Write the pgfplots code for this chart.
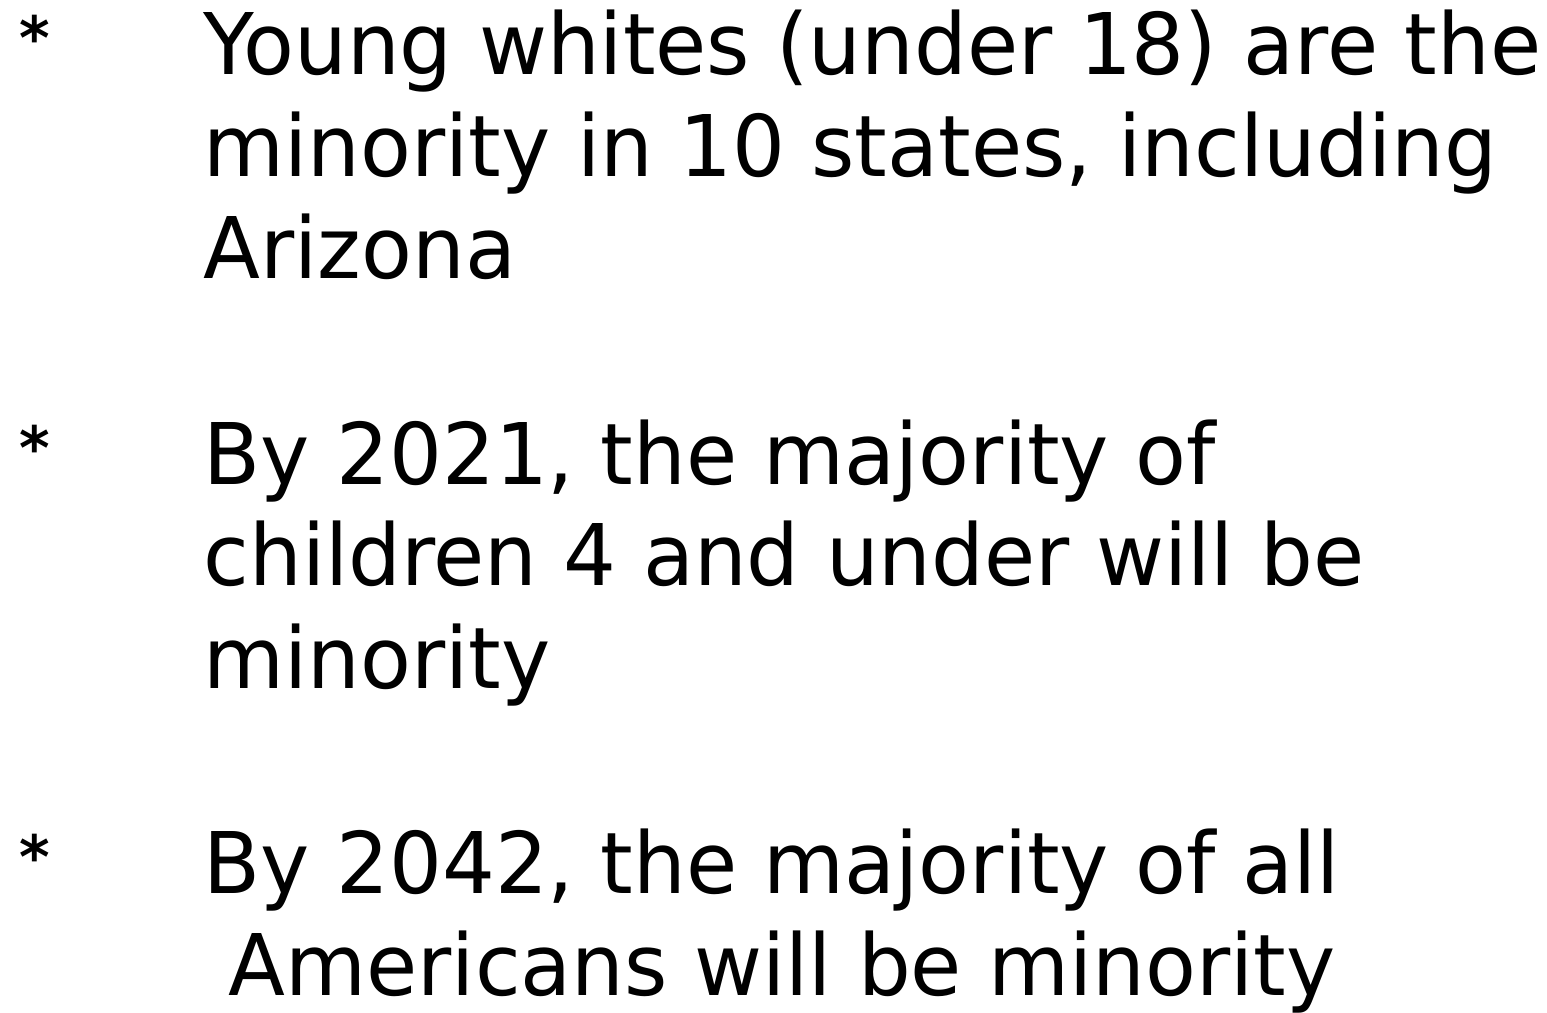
\documentclass[border=0pt]{standalone}
\usepackage{pgfplots}
\pgfplotsset{compat=1.18}
\usepackage{fontspec}
\setmainfont[FakeStretch=0.978]{DejaVu Sans}
\begin{document}
\begin{tikzpicture}
\begin{axis}[hide axis,scale only axis,width=15.47cm,height=10.10cm,
  xmin=0,xmax=1547,ymin=0,ymax=1010,y dir=reverse,clip=false]
\addplot[draw=none] coordinates {(0,0) (1547,1010)};
\tikzset{ln/.style={anchor=base west,inner sep=0pt,font=\fontsize{24.2pt}{29pt}\selectfont},
  ast/.style={anchor=base west,inner sep=0pt,font=\fontsize{17pt}{20pt}\selectfont\bfseries}}
% bullets
\node[ast] at (axis cs:19,60) {*};
\node[ast] at (axis cs:19,469) {*};
\node[ast] at (axis cs:19,878) {*};
% lines
\node[ln] at (axis cs:203,75) {Young whites (under 18) are the};
\node[ln] at (axis cs:203,177) {minority in 10 states, including};
\node[ln] at (axis cs:203,279) {Arizona};
\node[ln] at (axis cs:203,484) {By 2021, the majority of};
\node[ln] at (axis cs:203,586) {children 4 and under will be};
\node[ln] at (axis cs:203,688) {minority};
\node[ln] at (axis cs:203,893) {By 2042, the majority of all};
\node[ln] at (axis cs:228,995) {Americans will be minority};
\end{axis}
\end{tikzpicture}
\end{document}
